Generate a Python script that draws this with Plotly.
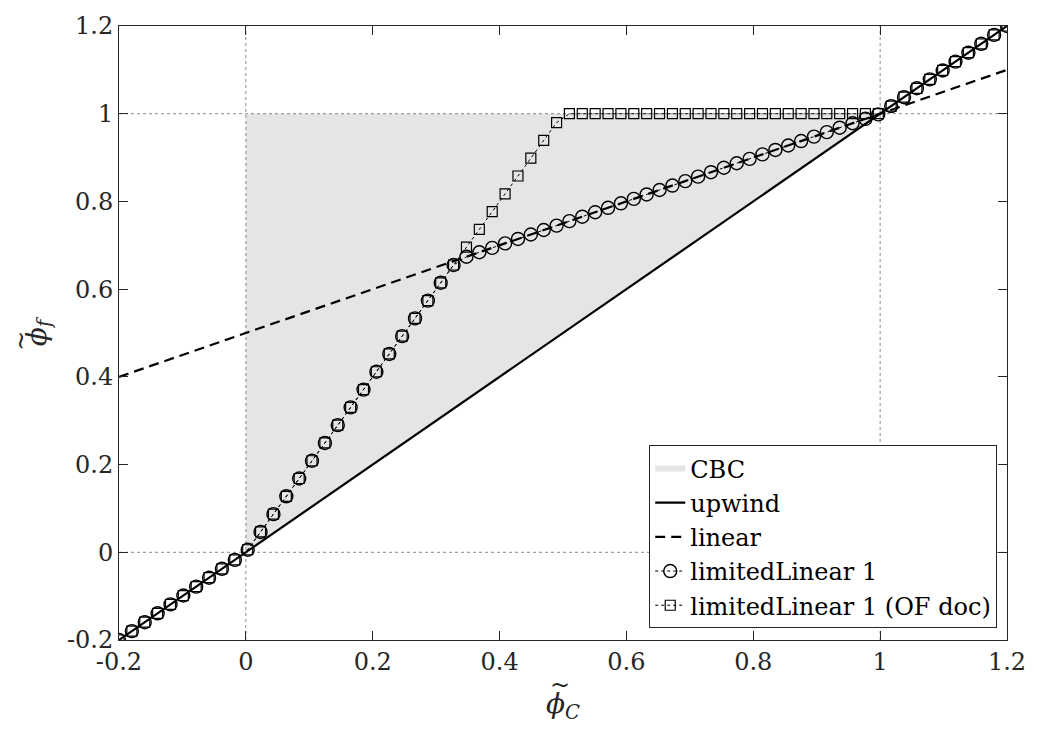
import plotly.graph_objects as go

# Normalised cell-centre value (NVD abscissa), 70 evaluation points
phi_c = [-0.2000, -0.1797, -0.1594, -0.1391, -0.1188, -0.0986, -0.0783, -0.0580,
         -0.0377, -0.0174, 0.0029, 0.0232, 0.0435, 0.0638, 0.0841, 0.1043,
         0.1246, 0.1449, 0.1652, 0.1855, 0.2058, 0.2261, 0.2464, 0.2667,
         0.2870, 0.3072, 0.3275, 0.3478, 0.3681, 0.3884, 0.4087, 0.4290,
         0.4493, 0.4696, 0.4899, 0.5101, 0.5304, 0.5507, 0.5710, 0.5913,
         0.6116, 0.6319, 0.6522, 0.6725, 0.6928, 0.7130, 0.7333, 0.7536,
         0.7739, 0.7942, 0.8145, 0.8348, 0.8551, 0.8754, 0.8957, 0.9159,
         0.9362, 0.9565, 0.9768, 0.9971, 1.0174, 1.0377, 1.0580, 1.0783,
         1.0986, 1.1188, 1.1391, 1.1594, 1.1797, 1.2000]

# limitedLinear 1 face values
phi_f_ll = [-0.2000, -0.1797, -0.1594, -0.1391, -0.1188, -0.0986, -0.0783, -0.0580,
            -0.0377, -0.0174, 0.0058, 0.0464, 0.0870, 0.1276, 0.1682, 0.2087,
            0.2493, 0.2899, 0.3304, 0.3710, 0.4116, 0.4522, 0.4928, 0.5333,
            0.5739, 0.6145, 0.6551, 0.6739, 0.6841, 0.6942, 0.7043, 0.7145,
            0.7246, 0.7348, 0.7449, 0.7551, 0.7652, 0.7754, 0.7855, 0.7957,
            0.8058, 0.8159, 0.8261, 0.8362, 0.8464, 0.8565, 0.8667, 0.8768,
            0.8870, 0.8971, 0.9072, 0.9174, 0.9275, 0.9377, 0.9478, 0.9580,
            0.9681, 0.9783, 0.9884, 0.9986, 1.0174, 1.0377, 1.0580, 1.0783,
            1.0986, 1.1188, 1.1391, 1.1594, 1.1797, 1.2000]

# limitedLinear 1 face values as given in the OpenFOAM documentation
phi_f_of = [-0.2000, -0.1797, -0.1594, -0.1391, -0.1188, -0.0986, -0.0783, -0.0580,
            -0.0377, -0.0174, 0.0058, 0.0464, 0.0870, 0.1276, 0.1682, 0.2087,
            0.2493, 0.2899, 0.3304, 0.3710, 0.4116, 0.4522, 0.4928, 0.5333,
            0.5739, 0.6145, 0.6551, 0.6957, 0.7362, 0.7768, 0.8174, 0.8580,
            0.8986, 0.9391, 0.9797, 1.0, 1.0, 1.0, 1.0, 1.0,
            1.0, 1.0, 1.0, 1.0, 1.0, 1.0, 1.0, 1.0,
            1.0, 1.0, 1.0, 1.0, 1.0, 1.0, 1.0, 1.0,
            1.0, 1.0, 1.0, 1.0, 1.0174, 1.0377, 1.0580, 1.0783,
            1.0986, 1.1188, 1.1391, 1.1594, 1.1797, 1.2000]

# Reference schemes (straight lines through their end points)
line_x = [-0.2, 1.2]
upwind_y = [-0.2, 1.2]
linear_y = [0.4, 1.1]

# Convection boundedness criterion region
cbc_x = [0, 0, 1, 0]
cbc_y = [0, 1, 1, 0]

# Dotted reference lines
ref_vals = [0, 1]

tick_vals = [-0.2, 0, 0.2, 0.4, 0.6, 0.8, 1, 1.2]
tick_text = ["-0.2", "0", "0.2", "0.4", "0.6", "0.8", "1", "1.2"]

FONT = "DejaVu Serif"
AX = "#262626"

fig = go.Figure()

fig.add_trace(go.Scatter(
    x=cbc_x, y=cbc_y, fill="toself", mode="none",
    fillcolor="rgba(0,0,0,0.1)", name="CBC"))

fig.add_trace(go.Scatter(
    x=line_x, y=upwind_y, mode="lines", name="upwind",
    line=dict(color="black", width=2.2)))

fig.add_trace(go.Scatter(
    x=line_x, y=linear_y, mode="lines", name="linear",
    line=dict(color="black", width=2.2, dash="10px,6px")))

fig.add_trace(go.Scatter(
    x=phi_c, y=phi_f_ll, mode="lines+markers", name="limitedLinear 1",
    line=dict(color="black", width=1, dash="dot"),
    marker=dict(symbol="circle-open", size=13, color="black",
                line=dict(width=1.4, color="black"))))

fig.add_trace(go.Scatter(
    x=phi_c, y=phi_f_of, mode="lines+markers", name="limitedLinear 1 (OF doc)",
    line=dict(color="black", width=1, dash="dot"),
    marker=dict(symbol="square-open", size=10, color="black",
                line=dict(width=1.2, color="black"))))

for v in ref_vals:
    fig.add_shape(type="line", xref="x", yref="paper", x0=v, x1=v, y0=0, y1=1,
                  line=dict(color="#8a8a8a", width=1, dash="dot"), layer="below")
    fig.add_shape(type="line", xref="paper", yref="y", x0=0, x1=1, y0=v, y1=v,
                  line=dict(color="#8a8a8a", width=1, dash="dot"), layer="below")

axis_common = dict(
    tickvals=tick_vals, ticktext=tick_text, ticks="inside", ticklen=9,
    tickcolor=AX, tickwidth=1, showline=True, linecolor=AX, linewidth=1,
    mirror="allticks", showgrid=False, zeroline=False,
    tickfont=dict(family=FONT, size=24, color=AX),
)

fig.update_xaxes(range=[-0.2, 1.2], **axis_common,
                 title=dict(text="<i>ϕ</i><sub><i>C</i></sub>",
                            font=dict(family=FONT, size=28, color=AX), standoff=18))
fig.update_yaxes(range=[-0.2, 1.2], **axis_common,
                 title=dict(text="<i>ϕ</i><sub><i>f</i></sub>",
                            font=dict(family=FONT, size=28, color=AX), standoff=12))

# tilde accents over the axis-title phi symbols
fig.add_annotation(text="~", xref="paper", yref="paper", x=0.497, y=-0.074,
                   showarrow=False, font=dict(family=FONT, size=24, color=AX),
                   xanchor="center", yanchor="middle")
fig.add_annotation(text="~", xref="paper", yref="paper", x=-0.11, y=0.488,
                   textangle=-90, showarrow=False,
                   font=dict(family=FONT, size=24, color=AX),
                   xanchor="center", yanchor="middle")

fig.update_layout(
    width=1038, height=733,
    margin=dict(l=119, r=27, t=19, b=93),
    paper_bgcolor="white", plot_bgcolor="white",
    font=dict(family=FONT, color="black"),
    showlegend=True,
    legend=dict(
        x=0.989, y=0.019, xanchor="right", yanchor="bottom",
        bgcolor="white", bordercolor=AX, borderwidth=1,
        font=dict(family=FONT, size=24, color="black"),
        itemwidth=30, tracegroupgap=0,
    ),
)

fig.write_html("out.html")
